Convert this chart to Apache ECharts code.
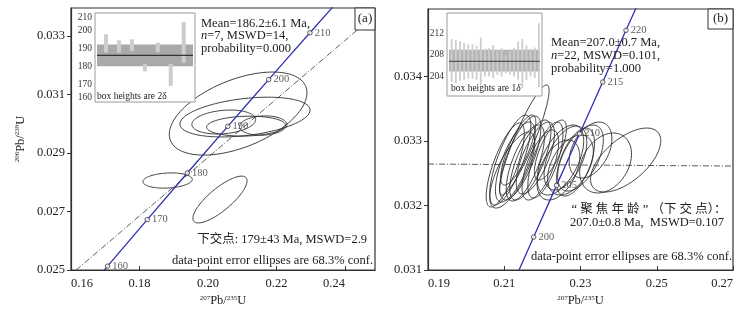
<!DOCTYPE html>
<html><head><meta charset="utf-8">
<script src="https://cdn.jsdelivr.net/npm/echarts@6/dist/echarts.min.js"></script>
<style>html,body{margin:0;padding:0;background:#fff}#c{width:749px;height:313px}</style>
</head><body><div id="c"></div>
<script>
// ---------------- data ----------------
// concordia (age in Ma, 207Pb/235U, 206Pb/238U)
var concAges = [150, 160, 170, 180, 190, 195, 200, 205, 210, 215, 220, 225];
var concX = [0.15920, 0.17068, 0.18226, 0.19396, 0.20578, 0.21173, 0.21771, 0.22372, 0.22976, 0.23583, 0.24193, 0.24806];
var concY = [0.023542, 0.025131, 0.026722, 0.028316, 0.029913, 0.030712, 0.031511, 0.032312, 0.033113, 0.033914, 0.034717, 0.035519];
var concLabelsA = [160, 170, 180, 190, 200, 210];
var concLabelsB = [200, 205, 210, 215, 220];

// error ellipses: [x centre, y centre, sigma x, sigma y, rho]
var ellipsesA = [
  [0.2088, 0.03035, 0.0201, 0.00142, 0.5],
  [0.2108, 0.03023, 0.0190, 0.00068, 0.35],
  [0.2046, 0.03006, 0.0093, 0.00041, 0.2],
  [0.2111, 0.02992, 0.0115, 0.00034, 0.1],
  [0.2161, 0.02994, 0.0069, 0.00033, 0.1],
  [0.1882, 0.02806, 0.0072, 0.00026, 0.15],
  [0.2035, 0.02741, 0.0079, 0.00080, 0.8]
];
var ellipsesB = [
  [0.21526, 0.033016, 0.00650, 0.000853, 0.9],
  [0.21026, 0.032628, 0.00500, 0.000651, 0.75],
  [0.21158, 0.032705, 0.00540, 0.000698, 0.75],
  [0.21289, 0.032674, 0.00520, 0.000620, 0.7],
  [0.21421, 0.032736, 0.00540, 0.000651, 0.72],
  [0.21553, 0.032659, 0.00500, 0.000589, 0.68],
  [0.21684, 0.032705, 0.00540, 0.000620, 0.72],
  [0.21816, 0.032736, 0.00500, 0.000558, 0.68],
  [0.21211, 0.032550, 0.00590, 0.000589, 0.72],
  [0.21947, 0.032628, 0.00480, 0.000543, 0.65],
  [0.22079, 0.032705, 0.00460, 0.000589, 0.68],
  [0.21368, 0.032860, 0.00460, 0.000543, 0.78],
  [0.22474, 0.032705, 0.00610, 0.000543, 0.55],
  [0.22605, 0.032736, 0.00560, 0.000496, 0.5],
  [0.22737, 0.032628, 0.00600, 0.000465, 0.45],
  [0.22868, 0.032674, 0.00500, 0.000527, 0.55],
  [0.22421, 0.032550, 0.00560, 0.000465, 0.45],
  [0.23000, 0.032736, 0.00600, 0.000512, 0.55],
  [0.22211, 0.032860, 0.00420, 0.000465, 0.72],
  [0.23658, 0.032659, 0.00680, 0.000465, 0.3],
  [0.24184, 0.032705, 0.00921, 0.000496, 0.6],
  [0.23263, 0.032860, 0.00560, 0.000434, 0.4]
];
// discordia / reference lines
var discordiaA = [[0.1615, 0.0250], [0.2488, 0.03373]];
var refLineB = [[0.19, 0.032643], [0.27, 0.032612]];

// inset weighted-mean plots
var insetALow  = [187.7, 187.7, 188.6, 177.2, 188.0, 169.1, 182.0];
var insetAHigh = [198.0, 194.7, 195.2, 181.4, 193.3, 181.4, 205.0];
var insetABand = [180.1, 192.3];
var insetAMean = 186.2;
var insetATicks = [160, 170, 180, 190, 200, 210];

var insetBLow  = [203.9, 203.75, 204.1, 204.25, 204.4, 204.4, 204.25, 203.4, 204.75, 204.75, 204.5, 205.0, 204.75, 205.25, 205.0, 204.75, 204.25, 203.0, 204.25, 204.75, 204.5, 203.1];
var insetBHigh = [210.4, 210.25, 210.1, 209.8, 209.6, 209.6, 209.4, 210.6, 208.9, 209.0, 209.5, 208.6, 209.0, 208.0, 208.6, 209.0, 210.0, 210.4, 209.4, 208.9, 209.1, 212.75];
var insetBBand = [205.5, 208.75];
var insetBMean = 207.0;
var insetBTicks = [204, 208, 212];

var xTicksA = [0.16, 0.18, 0.20, 0.22, 0.24];
var yTicksA = [0.025, 0.027, 0.029, 0.031, 0.033];
var xTicksB = [0.19, 0.21, 0.23, 0.25, 0.27];
var yTicksB = [0.031, 0.032, 0.033, 0.034];

// ---------------- chart ----------------
var FONT = '"Liberation Serif", "Times New Roman", "Noto Sans CJK SC", serif';
var TXT = '#222';
var chart = echarts.init(document.getElementById('c'), null, {renderer: 'canvas'});

function concPts() { return concAges.map(function (a, i) { return [concX[i], concY[i]]; }); }
function concMarks(list) {
  return list.map(function (a) { var i = concAges.indexOf(a); return {value: [concX[i], concY[i]], name: String(a)}; });
}
function ellipseItem(params, api) {
  var cx = api.value(0), cy = api.value(1), sx = api.value(2), sy = api.value(3), r = api.value(4);
  var q = Math.sqrt(1 - r * r), pts = [];
  for (var k = 0; k <= 120; k++) {
    var t = k / 120 * 2 * Math.PI;
    pts.push(api.coord([cx + sx * Math.cos(t), cy + sy * (r * Math.cos(t) + q * Math.sin(t))]));
  }
  return {type: 'polyline', shape: {points: pts}, style: {fill: null, stroke: '#2a2a2a', lineWidth: 0.9}};
}
function barItem(w) {
  return function (params, api) {
    var x = api.value(0);
    var pHi = api.coord([x, api.value(2)]), pLo = api.coord([x, api.value(1)]);
    return {type: 'rect', shape: {x: pHi[0] - w / 2, y: pHi[1], width: w, height: pLo[1] - pHi[1]}, style: {fill: '#cdcdcd'}};
  };
}
function bandItem(color) {
  return function (params, api) {
    var cs = params.coordSys;
    var pHi = api.coord([0, api.value(1)]), pLo = api.coord([0, api.value(0)]);
    return {type: 'rect', shape: {x: cs.x + 2, y: pHi[1], width: cs.width - 4, height: pLo[1] - pHi[1]}, style: {fill: color}};
  };
}
function meanItem(color) {
  return function (params, api) {
    var cs = params.coordSys;
    var p = api.coord([0, api.value(0)]);
    return {type: 'line', shape: {x1: cs.x + 2, y1: p[1], x2: cs.x + cs.width - 2, y2: p[1]}, style: {stroke: color, lineWidth: 1.3}};
  };
}

var mainAxisLine = {show: true, lineStyle: {color: '#333', width: 1.2}};
function xAxisMain(grid, min, max, ticks) {
  return {gridIndex: grid, type: 'value', min: min, max: max,
    name: '{s|207}Pb/{s|235}U', nameLocation: 'middle', nameGap: 23,
    nameTextStyle: {fontFamily: FONT, fontSize: 12.5, color: TXT, rich: {s: {fontFamily: FONT, fontSize: 7, verticalAlign: 'top', padding: [0, 0, 6, 0]}}},
    axisLine: mainAxisLine, splitLine: {show: false},
    axisTick: {inside: true, length: 4, lineStyle: {color: '#333'}, customValues: ticks},
    axisLabel: {customValues: ticks, margin: 7, fontFamily: FONT, fontSize: 12.5, color: TXT, alignMinLabel: 'left', alignMaxLabel: 'right',
      formatter: function (v) { return v.toFixed(2); }}
  };
}
function yAxisMain(grid, min, max, ticks, withName) {
  var ax = {gridIndex: grid, type: 'value', min: min, max: max,
    axisLine: mainAxisLine, splitLine: {show: false},
    axisTick: {inside: false, length: 4, lineStyle: {color: '#333'}, customValues: ticks},
    axisLabel: {customValues: ticks, margin: 6, fontFamily: FONT, fontSize: 12.5, color: TXT,
      formatter: function (v) { return v.toFixed(3); }}
  };
  if (withName) {
    ax.name = '{s|206}Pb/{s|238}U'; ax.nameLocation = 'middle'; ax.nameRotate = 90; ax.nameGap = 44;
    ax.nameTextStyle = {fontFamily: FONT, fontSize: 12.5, color: TXT, rich: {s: {fontFamily: FONT, fontSize: 7, verticalAlign: 'top', padding: [0, 0, 6, 0]}}};
  }
  return ax;
}
function yAxisInset(grid, min, max, ticks) {
  return {gridIndex: grid, type: 'value', min: min, max: max,
    axisLine: {show: false}, axisTick: {show: false}, splitLine: {show: false},
    axisLabel: {customValues: ticks, margin: 3, fontFamily: FONT, fontSize: 9.5, color: '#333',
      verticalAlignMinLabel: 'bottom', verticalAlignMaxLabel: 'top'}
  };
}
function xAxisInset(grid, min, max) {
  return {gridIndex: grid, type: 'value', min: min, max: max, show: false};
}

var option = {
  animation: false,
  backgroundColor: '#fff',
  grid: [
    {left: 71, top: 8, width: 304, height: 262, show: true, borderColor: '#333', borderWidth: 1.2},
    {left: 428, top: 9, width: 305, height: 261, show: true, borderColor: '#333', borderWidth: 1.2},
    {left: 95, top: 13, width: 100, height: 89},
    {left: 447, top: 13, width: 95, height: 83}
  ],
  xAxis: [
    xAxisMain(0, 0.16, 0.24876, xTicksA),
    xAxisMain(1, 0.19, 0.27, xTicksB),
    xAxisInset(2, 0.15, 7.87),
    xAxisInset(3, -0.12, 22.74)
  ],
  yAxis: [
    yAxisMain(0, 0.025, 0.03396, yTicksA, true),
    yAxisMain(1, 0.031, 0.035047, yTicksB, false),
    yAxisInset(2, 160, 210, insetATicks),
    yAxisInset(3, 201.8, 214.3, insetBTicks)
  ],
  graphic: [
    {type: 'rect', z: 5, shape: {x: 95, y: 13, width: 100, height: 89}, style: {fill: '#fff', stroke: '#9a9a9a', lineWidth: 1}},
    {type: 'rect', z: 5, shape: {x: 447, y: 13, width: 95, height: 83}, style: {fill: '#fff', stroke: '#9a9a9a', lineWidth: 1}},
    {type: 'text', z: 20, style: {x: 97, y: 96, text: 'box heights are 2δ', font: '9.5px ' + FONT, fill: '#222', verticalAlign: 'middle'}},
    {type: 'text', z: 20, style: {x: 451, y: 88, text: 'box heights are 1{i|δ}', font: '9.5px ' + FONT, fill: '#222', verticalAlign: 'middle',
      rich: {i: {fontStyle: 'italic', fontFamily: FONT, fontSize: 9.5}}}},
    // (a) / (b) labels
    {type: 'rect', z: 20, shape: {x: 355, y: 8, width: 20, height: 22}, style: {fill: '#fff', stroke: '#333', lineWidth: 1}},
    {type: 'text', z: 21, style: {x: 365, y: 19, text: '(a)', font: '13px ' + FONT, fill: TXT, align: 'center', verticalAlign: 'middle'}},
    {type: 'rect', z: 20, shape: {x: 708, y: 9, width: 25, height: 20}, style: {fill: '#fff', stroke: '#333', lineWidth: 1}},
    {type: 'text', z: 21, style: {x: 720.5, y: 19, text: '(b)', font: '13px ' + FONT, fill: TXT, align: 'center', verticalAlign: 'middle'}},
    // panel a annotations
    {type: 'text', z: 15, style: {x: 201, y: 23.5, text: 'Mean=186.2±6.1 Ma,', font: '12.5px ' + FONT, fill: TXT, verticalAlign: 'middle'}},
    {type: 'text', z: 15, style: {x: 201, y: 36, text: '{i|n}=7, MSWD=14,', font: '12.5px ' + FONT, fill: TXT, verticalAlign: 'middle',
      rich: {i: {fontStyle: 'italic', fontFamily: FONT, fontSize: 12.5}}}},
    {type: 'text', z: 15, style: {x: 201, y: 48.5, text: 'probability=0.000', font: '12.5px ' + FONT, fill: TXT, verticalAlign: 'middle'}},
    {type: 'text', z: 15, style: {x: 367, y: 240, text: '下交点: 179±43 Ma, MSWD=2.9', font: '12.5px ' + FONT, fill: TXT, align: 'right', verticalAlign: 'middle'}},
    {type: 'text', z: 15, style: {x: 373, y: 261, text: 'data-point error ellipses are 68.3% conf.', font: '12.5px ' + FONT, fill: TXT, align: 'right', verticalAlign: 'middle'}},
    // panel b annotations
    {type: 'text', z: 15, style: {x: 551, y: 43, text: 'Mean=207.0±0.7 Ma,', font: '12.5px ' + FONT, fill: TXT, verticalAlign: 'middle'}},
    {type: 'text', z: 15, style: {x: 551, y: 56, text: '{i|n}=22, MSWD=0.101,', font: '12.5px ' + FONT, fill: TXT, verticalAlign: 'middle',
      rich: {i: {fontStyle: 'italic', fontFamily: FONT, fontSize: 12.5}}}},
    {type: 'text', z: 15, style: {x: 551, y: 68.5, text: 'probability=1.000', font: '12.5px ' + FONT, fill: TXT, verticalAlign: 'middle'}},
    {type: 'text', z: 15, style: {x: 649, y: 210, text: '“ 聚 焦 年 龄 ” （下 交 点）：', font: '12.5px ' + FONT, fill: TXT, align: 'center', verticalAlign: 'middle'}},
    {type: 'text', z: 15, style: {x: 647, y: 223, text: '207.0±0.8 Ma,  MSWD=0.107', font: '12.5px ' + FONT, fill: TXT, align: 'center', verticalAlign: 'middle'}},
    {type: 'text', z: 15, style: {x: 732, y: 257, text: 'data-point error ellipses are 68.3% conf.', font: '12.5px ' + FONT, fill: TXT, align: 'right', verticalAlign: 'middle'}}
  ],
  series: [
    // panel a
    {type: 'custom', xAxisIndex: 0, yAxisIndex: 0, silent: true, z: 2, data: ellipsesA, renderItem: ellipseItem},
    {type: 'line', xAxisIndex: 0, yAxisIndex: 0, silent: true, z: 3, data: discordiaA, symbol: 'none',
      lineStyle: {color: '#333', width: 0.8, type: [6, 2, 1, 2]}},
    {type: 'line', xAxisIndex: 0, yAxisIndex: 0, silent: true, z: 4, data: concPts(), symbol: 'none', smooth: false,
      lineStyle: {color: '#2f31b0', width: 1.3}},
    {type: 'scatter', xAxisIndex: 0, yAxisIndex: 0, silent: true, z: 5, data: concMarks(concLabelsA), symbol: 'circle', symbolSize: 4.5,
      itemStyle: {color: '#fff', borderColor: '#333', borderWidth: 1},
      label: {show: true, position: 'right', distance: 2, formatter: '{b}', fontFamily: FONT, fontSize: 10.5, color: '#333'}},
    // panel b
    {type: 'custom', xAxisIndex: 1, yAxisIndex: 1, silent: true, z: 2, data: ellipsesB, renderItem: ellipseItem},
    {type: 'line', xAxisIndex: 1, yAxisIndex: 1, silent: true, z: 3, data: refLineB, symbol: 'none',
      lineStyle: {color: '#333', width: 0.8, type: [6, 2, 1, 2]}},
    {type: 'line', xAxisIndex: 1, yAxisIndex: 1, silent: true, z: 4, data: concPts(), symbol: 'none',
      lineStyle: {color: '#2f31b0', width: 1.3}},
    {type: 'scatter', xAxisIndex: 1, yAxisIndex: 1, silent: true, z: 5, data: concMarks(concLabelsB), symbol: 'circle', symbolSize: 4.5,
      itemStyle: {color: '#fff', borderColor: '#333', borderWidth: 1},
      label: {show: true, position: 'right', distance: 2, formatter: '{b}', fontFamily: FONT, fontSize: 10.5, color: '#333'}},
    // inset a
    {type: 'custom', xAxisIndex: 2, yAxisIndex: 2, silent: true, z: 10, data: [insetABand], renderItem: bandItem('#a9a9a9')},
    {type: 'custom', xAxisIndex: 2, yAxisIndex: 2, silent: true, z: 11,
      data: insetALow.map(function (v, i) { return [i + 1, v, insetAHigh[i]]; }), renderItem: barItem(4)},
    {type: 'custom', xAxisIndex: 2, yAxisIndex: 2, silent: true, z: 12, data: [[insetAMean]], renderItem: meanItem('#333')},
    // inset b
    {type: 'custom', xAxisIndex: 3, yAxisIndex: 3, silent: true, z: 10, data: [insetBBand], renderItem: bandItem('#b3b3b3')},
    {type: 'custom', xAxisIndex: 3, yAxisIndex: 3, silent: true, z: 11,
      data: insetBLow.map(function (v, i) { return [i + 1, v, insetBHigh[i]]; }), renderItem: barItem(1.8)},
    {type: 'custom', xAxisIndex: 3, yAxisIndex: 3, silent: true, z: 12, data: [[insetBMean]], renderItem: meanItem('#555')}
  ]
};
chart.setOption(option);
</script>
</body></html>
